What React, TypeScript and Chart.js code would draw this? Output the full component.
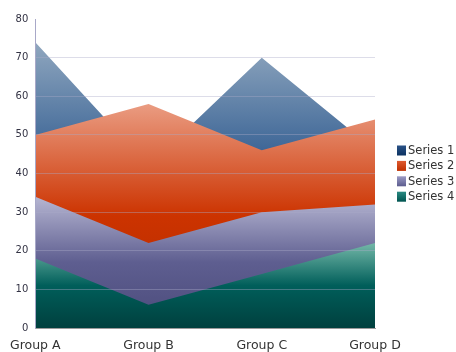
import React, { useEffect, useRef } from "react";
import { Chart, registerables } from "chart.js";

Chart.register(...registerables);

const categories = ["Group A", "Group B", "Group C", "Group D"];
const seriesNames = ["Series 1", "Series 2", "Series 3", "Series 4"];
const series1 = [74, 42, 70, 46];
const series2 = [50, 58, 46, 54];
const series3 = [34, 22, 30, 32];
const series4 = [18, 6, 14, 22];
const yTicks = [0, 10, 20, 30, 40, 50, 60, 70, 80];

const gradientStops: string[][] = [
  ["#90a7bf", "#24528a", "#0f3666"],
  ["#ea9c82", "#cc3300", "#b02a00"],
  ["#b6b6d2", "#5e5e90", "#4a4a7a"],
  ["#74b8a8", "#005e5a", "#00403e"],
];
const legendStops: string[][] = [
  ["#2a5286", "#0c3262"],
  ["#de5a30", "#bf3000"],
  ["#9a9ac4", "#5c5c8e"],
  ["#2a8a82", "#005450"],
];

const legendPlugin = {
  id: "customLegend",
  afterDraw(chart: any) {
    const ctx = chart.ctx;
    ctx.save();
    const x = 397;
    const y0 = 150.5;
    const step = 15.4;
    ctx.font = "11.5px 'DejaVu Sans'";
    ctx.textBaseline = "middle";
    ctx.textAlign = "left";
    chart.data.datasets.forEach((d: any, i: number) => {
      const cy = y0 + i * step;
      const g = ctx.createLinearGradient(0, cy - 5, 0, cy + 5);
      g.addColorStop(0, legendStops[i][0]);
      g.addColorStop(1, legendStops[i][1]);
      ctx.fillStyle = g;
      ctx.fillRect(x, cy - 5, 9, 10);
      ctx.fillStyle = "#333333";
      ctx.fillText(d.label, x + 11, cy + 0.5);
    });
    ctx.restore();
  },
};

export default function App() {
  const ref = useRef<HTMLCanvasElement | null>(null);

  useEffect(() => {
    document.body.style.margin = "0";
    const canvas = ref.current;
    if (!canvas) return;
    const values = [series1, series2, series3, series4];

    const makeBg = (i: number) => (ctx: any) => {
      const chart = ctx.chart;
      const area = chart.chartArea;
      if (!area) return gradientStops[i][1];
      const y = chart.scales.y;
      const top = y.getPixelForValue(Math.max(...values[i]));
      const bottom = y.getPixelForValue(0);
      const g = chart.ctx.createLinearGradient(0, top, 0, bottom);
      g.addColorStop(0, gradientStops[i][0]);
      g.addColorStop(0.5, gradientStops[i][1]);
      g.addColorStop(1, gradientStops[i][2]);
      return g;
    };

    const chart = new Chart(canvas, {
      type: "line",
      data: {
        labels: categories,
        datasets: values.map((v, i) => ({
          label: seriesNames[i],
          data: v,
          fill: "origin",
          backgroundColor: makeBg(i),
          borderColor: "transparent",
          borderWidth: 0,
          pointRadius: 0,
          tension: 0,
          order: 3 - i,
        })),
      },
      options: {
        responsive: false,
        animation: false,
        layout: { padding: { top: 19, left: 0, right: 81, bottom: 0 } },
        plugins: {
          tooltip: { enabled: false },
          legend: { display: false },
        },
        scales: {
          x: {
            afterFit: (s: any) => {
              s.height = 24;
            },
            grid: { display: false, drawTicks: false },
            border: { display: true, color: "#9a9a9a", width: 1, z: 1 },
            ticks: {
              color: "#333333",
              padding: 10,
              maxRotation: 0,
              font: { family: "DejaVu Sans", size: 12.5 },
            },
          },
          y: {
            min: 0,
            max: 80,
            afterFit: (s: any) => {
              s.width = 35;
            },
            afterBuildTicks: (s: any) => {
              s.ticks = yTicks.map((v) => ({ value: v }));
            },
            grid: {
              z: 1,
              drawTicks: false,
              color: (c: any) =>
                c.tick && (c.tick.value === 80 || c.tick.value === 0)
                  ? "rgba(0,0,0,0)"
                  : "rgba(170,170,200,0.4)",
            },
            border: { display: true, color: "#a8a8c8", width: 1, z: 1 },
            ticks: {
              color: "#333344",
              padding: 7,
              font: { family: "DejaVu Sans", size: 10 },
            },
          },
        },
      },
      plugins: [legendPlugin],
    });
    return () => chart.destroy();
  }, []);

  return <canvas ref={ref} width={456} height={352} style={{ display: "block" }} />;
}
